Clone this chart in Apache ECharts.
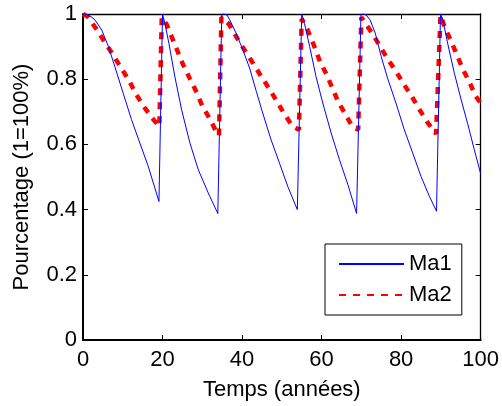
<!DOCTYPE html>
<html>
<head>
<meta charset="utf-8">
<script src="https://cdn.jsdelivr.net/npm/echarts@6/dist/echarts.min.js"></script>
<style>html,body{margin:0;padding:0;background:#fff;}#c{width:502px;height:406px;}</style>
</head>
<body>
<div id="c"></div>
<script>
var seriesNames = ['Ma1', 'Ma2'];
var xTicks = [0, 20, 40, 60, 80, 100];
var yTicks = [0, 0.2, 0.4, 0.6, 0.8, 1];
var xAxisTitle = 'Temps (années)';
var yAxisTitle = 'Pourcentage (1=100%)';

var ma1X = [0, 1.0, 2.0, 3.0, 4.7, 6.4, 8.0, 10.1, 12.2, 14.3, 16.4, 19.1,
  20.0, 20.6, 21.6, 23.1, 24.8, 26.9, 29.0, 31.5, 33.9,
  34.9, 35.5, 36.2, 36.9, 38.5, 40.2, 41.9, 43.6, 45.2, 47.3, 49.4, 51.5, 53.9,
  55.0, 55.7, 57.0, 58.6, 60.3, 62.4, 64.5, 66.6, 68.8,
  69.9, 70.5, 71.2, 72.2, 73.5, 75.0, 76.6, 78.7, 80.8, 82.9, 85.0, 87.1, 88.9,
  89.9, 90.5, 91.7, 93.4, 95.1, 96.7, 98.4, 100];
var ma1Y = [1.0, 0.998, 0.992, 0.982, 0.951, 0.90, 0.839, 0.757, 0.676, 0.604, 0.533, 0.425,
  1.0, 0.971, 0.91, 0.808, 0.706, 0.604, 0.522, 0.451, 0.388,
  1.0, 1.0, 0.997, 0.982, 0.941, 0.89, 0.834, 0.762, 0.696, 0.614, 0.543, 0.471, 0.40,
  1.0, 0.971, 0.90, 0.808, 0.727, 0.635, 0.553, 0.477, 0.388,
  1.0, 1.0, 0.997, 0.982, 0.941, 0.869, 0.803, 0.727, 0.645, 0.574, 0.502, 0.441, 0.395,
  1.0, 0.982, 0.91, 0.818, 0.737, 0.665, 0.584, 0.51];

var ma2X = [0, 1.2, 3.4, 5.5, 7.6, 9.5, 11.6, 13.2, 15.3, 17.4, 19.2,
  19.8, 21.0, 23.8, 25.2, 26.9, 28.6, 30.0, 31.9, 33.6, 34.2,
  34.8, 36.7, 38.5, 40.5, 42.6, 44.6, 46.7, 48.6, 50.5, 52.6, 54.3,
  55.0, 56.5, 58.2, 59.6, 61.3, 62.8, 64.2, 66.2, 67.8, 69.2,
  70.0, 72.6, 74.5, 76.5, 78.6, 80.5, 82.6, 84.5, 86.5, 88.8,
  89.9, 90.9, 92.7, 94.2, 95.6, 97.3, 98.8, 100];
var ma2Y = [1.0, 0.992, 0.953, 0.913, 0.874, 0.836, 0.796, 0.757, 0.716, 0.681, 0.655,
  0.99, 0.969, 0.885, 0.844, 0.801, 0.759, 0.718, 0.678, 0.637, 0.627,
  0.99, 0.969, 0.931, 0.892, 0.852, 0.813, 0.773, 0.735, 0.696, 0.657, 0.645,
  0.985, 0.951, 0.90, 0.854, 0.813, 0.77, 0.73, 0.688, 0.653, 0.645,
  0.99, 0.943, 0.905, 0.864, 0.826, 0.788, 0.749, 0.709, 0.67, 0.632,
  0.997, 0.961, 0.913, 0.869, 0.829, 0.788, 0.747, 0.727];

function zip(xs, ys) { return xs.map(function (x, i) { return [x, ys[i]]; }); }

var FONT = 'Liberation Sans, Arial, Helvetica, sans-serif';
var chart = echarts.init(document.getElementById('c'), null, {renderer: 'canvas'});

function xAx(pos, show) {
  return {
    type: 'value', position: pos, min: xTicks[0], max: xTicks[xTicks.length - 1], interval: 20,
    name: show ? xAxisTitle : '', nameLocation: 'middle', nameGap: 39,
    nameTextStyle: {fontFamily: FONT, fontSize: 22, color: '#000'},
    axisLine: {show: true, onZero: false, lineStyle: {color: '#000', width: show ? 2 : 1.3}},
    axisTick: {show: true, inside: true, length: 5, lineStyle: {color: '#000', width: 1}},
    axisLabel: {show: show, margin: 9, fontFamily: FONT, fontSize: 22, color: '#000',
      formatter: function (v) { return xTicks.indexOf(v) >= 0 ? String(v) : ''; }},
    splitLine: {show: false}
  };
}
function yAx(pos, show) {
  return {
    type: 'value', position: pos, min: yTicks[0], max: yTicks[yTicks.length - 1], interval: 0.2,
    name: show ? yAxisTitle : '', nameLocation: 'middle', nameGap: 50,
    nameTextStyle: {fontFamily: FONT, fontSize: 22, color: '#000'},
    axisLine: {show: true, onZero: false, lineStyle: {color: '#000', width: show ? 2 : 1.3}},
    axisTick: {show: true, inside: true, length: 5, lineStyle: {color: '#000', width: 1}},
    axisLabel: {show: show, margin: 6, fontFamily: FONT, fontSize: 22, color: '#000',
      formatter: function (v) { var r = Math.round(v * 10) / 10; return String(r); }},
    splitLine: {show: false}
  };
}

chart.setOption({
  animation: false,
  backgroundColor: '#fff',
  grid: {left: 83, right: 21, top: 14, bottom: 65, containLabel: false},
  xAxis: [xAx('bottom', true), xAx('top', false)],
  yAxis: [yAx('left', true), yAx('right', false)],
  legend: {
    orient: 'vertical', left: 325, top: 244,
    padding: [9, 10, 9, 13], itemGap: 9, itemWidth: 65, itemHeight: 14,
    backgroundColor: '#fff', borderColor: '#000', borderWidth: 1, borderRadius: 0,
    itemStyle: {opacity: 0},
    textStyle: {fontFamily: FONT, fontSize: 22, color: '#000'},
    data: seriesNames
  },
  series: [
    {name: seriesNames[0], type: 'line', data: zip(ma1X, ma1Y), showSymbol: false, symbol: 'none',
      lineStyle: {color: '#0000ff', width: 1}, itemStyle: {color: '#0000ff'}, z: 3},
    {name: seriesNames[1], type: 'line', data: zip(ma2X, ma2Y), showSymbol: false, symbol: 'none',
      lineStyle: {color: '#ff0000', width: 4.5, type: [7, 7], cap: 'butt'}, itemStyle: {color: '#ff0000'}, z: 2}
  ]
});
</script>
</body>
</html>
